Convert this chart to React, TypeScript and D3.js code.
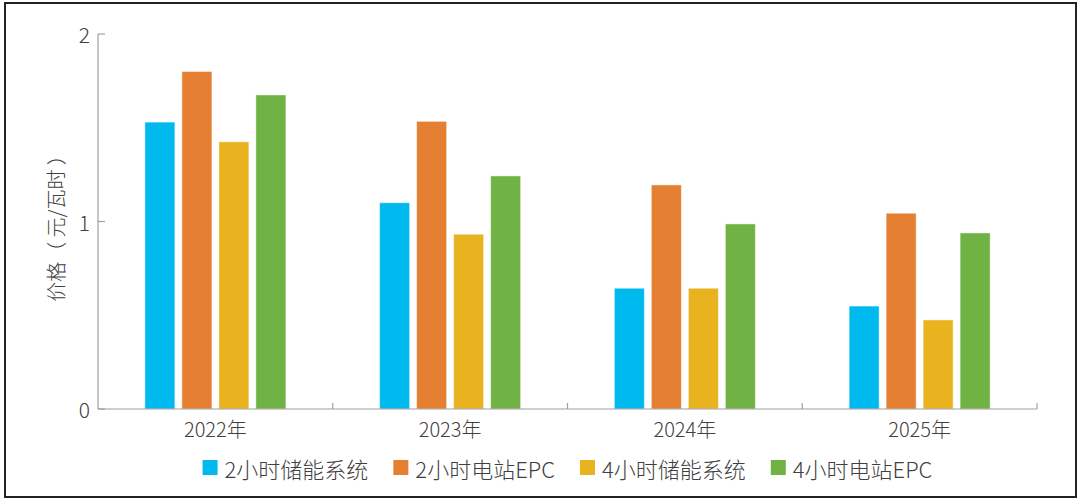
import React, { useRef, useEffect } from 'react';
import * as d3 from 'd3';

const years = ['2022年', '2023年', '2024年', '2025年'];
const seriesNames = ['2小时储能系统', '2小时电站EPC', '4小时储能系统', '4小时电站EPC'];
const seriesColors = ['#00b9ef', '#e57f32', '#e9b21f', '#71b244'];
const sys2h = [1.53, 1.1, 0.644, 0.549];
const epc2h = [1.80, 1.534, 1.195, 1.044];
const sys4h = [1.425, 0.932, 0.644, 0.475];
const epc4h = [1.675, 1.243, 0.987, 0.939];
const yTicks = [0, 1, 2];

const W = 1080;
const H = 502;
const FONT = '"Noto Sans CJK SC", "Noto Sans", sans-serif';
const TEXT = '#404040';

export default function App() {
  const svgRef = useRef<SVGSVGElement>(null);

  useEffect(() => {
    if (!svgRef.current) return;
    const svg = d3.select(svgRef.current);
    svg.selectAll('*').remove();

    const series = [sys2h, epc2h, sys4h, epc4h];
    const left = 98, right = 1037, top = 34, bottom = 409;

    // outer frame
    svg.append('rect')
      .attr('x', 5).attr('y', 3)
      .attr('width', 1071).attr('height', 494)
      .attr('fill', '#fff')
      .attr('stroke', '#222')
      .attr('stroke-width', 2);

    const x = d3.scaleBand<string>().domain(years).range([left, right]).padding(0);
    const inner = d3.scaleBand<number>()
      .domain(d3.range(series.length))
      .range([-70.5, 70.5])
      .paddingInner(7 / 37)
      .paddingOuter(0);
    const y = d3.scaleLinear().domain([0, 2]).range([bottom, top]);

    // bars
    series.forEach((vals, si) => {
      svg.append('g')
        .selectAll('rect')
        .data(vals)
        .enter()
        .append('rect')
        .attr('x', (d, i) => x(years[i])! + x.bandwidth() / 2 + inner(si)!)
        .attr('y', d => y(d))
        .attr('width', inner.bandwidth())
        .attr('height', d => bottom - y(d))
        .attr('fill', seriesColors[si])
        .attr('stroke', '#ffffff')
        .attr('stroke-opacity', 0.45)
        .attr('stroke-width', 1);
    });

    const axisColor = '#a0a0a0';
    // y axis
    svg.append('line')
      .attr('x1', left).attr('x2', left)
      .attr('y1', top).attr('y2', bottom)
      .attr('stroke', axisColor).attr('stroke-width', 1.2);
    const yg = svg.append('g');
    yTicks.forEach(t => {
      yg.append('line')
        .attr('x1', left).attr('x2', left + 7)
        .attr('y1', y(t)).attr('y2', y(t))
        .attr('stroke', axisColor).attr('stroke-width', 1.2);
      yg.append('text')
        .attr('x', left - 8).attr('y', y(t))
        .attr('text-anchor', 'end')
        .attr('dominant-baseline', 'central')
        .attr('font-family', FONT)
        .attr('font-size', 21)
        .attr('font-weight', 300)
        .attr('fill', TEXT)
        .text(t);
    });

    // x axis
    svg.append('line')
      .attr('x1', left).attr('x2', right)
      .attr('y1', bottom).attr('y2', bottom)
      .attr('stroke', axisColor).attr('stroke-width', 1.2);
    const bounds = years.map(yr => x(yr)! + x.bandwidth());
    bounds.forEach(bx => {
      svg.append('line')
        .attr('x1', bx).attr('x2', bx)
        .attr('y1', bottom).attr('y2', bottom - 6)
        .attr('stroke', axisColor).attr('stroke-width', 1.2);
    });
    years.forEach(yr => {
      svg.append('text')
        .attr('x', x(yr)! + x.bandwidth() / 2)
        .attr('y', 437)
        .attr('text-anchor', 'middle')
        .attr('font-family', FONT)
        .attr('font-size', 20)
        .attr('font-weight', 300)
        .attr('fill', TEXT)
        .text(yr);
    });

    // y title
    svg.append('text')
      .attr('transform', `translate(55, ${(top + bottom) / 2 + 2}) rotate(-90)`)
      .attr('text-anchor', 'middle')
      .attr('dominant-baseline', 'central')
      .attr('font-family', FONT)
      .attr('font-size', 20)
      .attr('font-weight', 300)
      .attr('fill', TEXT)
      .text('价格（ 元/瓦时 ）');

    // legend
    const lg = svg.append('g');
    let cx = 0;
    seriesNames.forEach((name, i) => {
      const item = lg.append('g').attr('transform', `translate(${cx}, 0)`);
      item.append('rect')
        .attr('x', 0).attr('y', 460)
        .attr('width', 15).attr('height', 15)
        .attr('fill', seriesColors[i]);
      const t = item.append('text')
        .attr('x', 22).attr('y', 468)
        .attr('dominant-baseline', 'central')
        .attr('font-family', FONT)
        .attr('font-size', 22)
        .attr('font-weight', 300)
        .attr('fill', TEXT)
        .text(name);
      const tw = (t.node() as SVGTextElement).getComputedTextLength();
      cx += 22 + tw + (i < seriesNames.length - 1 ? 25 : 0);
    });
    const center = (left + right) / 2;
    lg.attr('transform', `translate(${center - cx / 2}, 0)`);
  }, []);

  return (
    <div style={{ position: 'absolute', left: 0, top: 0, width: W, height: H, background: '#fff' }}>
      <svg ref={svgRef} width={W} height={H} />
    </div>
  );
}
